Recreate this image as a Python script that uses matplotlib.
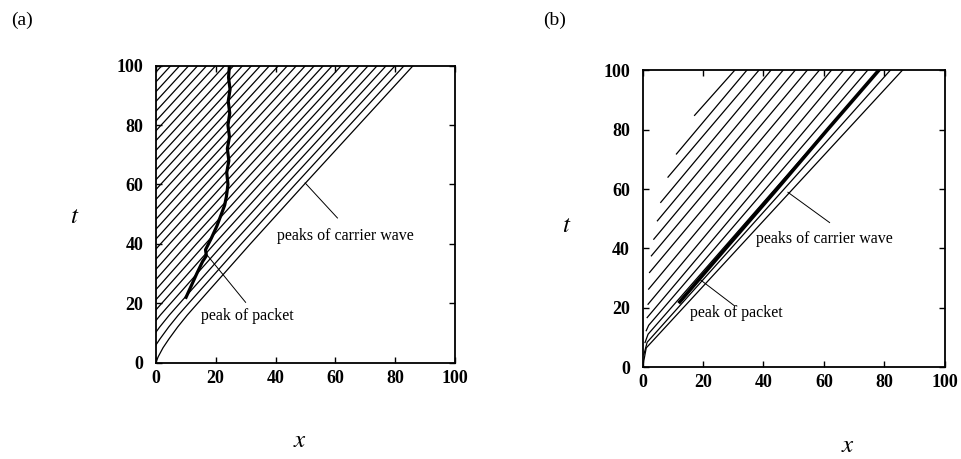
import matplotlib.pyplot as plt
import numpy as np

# outermost carrier-wave peak in (a), (t, x)
BASE_T_A = [0, 2, 5, 8, 12, 16, 20, 30, 40, 60, 80, 100]
BASE_X_A = [0, 0.8, 2.4, 4.4, 7.3, 10.5, 14.0, 22.8, 31.6, 49.6, 67.8, 86.0]

# where each carrier-wave peak meets t = 100 in (a)
CARRIER_TOP_A = [86, 83, 80, 77, 74, 71, 68, 65, 62, 59, 56, 53, 50, 47, 44,
                 41, 38, 35, 32, 29, 26, 23, 20, 17, 14, 11, 8, 5, 2]

# (b): first visible point (x, t) and crossing of t = 100 for each peak
CARRIER_START_X_B = [17.2, 11.2, 8.4, 6.0, 4.9, 3.7, 2.9, 2.3, 2.0, 1.8, 1.5,
                     1.2, 0.8, 0.4, 0.0]
CARRIER_START_T_B = [84.8, 71.8, 64.0, 55.5, 49.3, 43.1, 37.5, 31.9, 26.3, 21.2,
                     16.7, 12.3, 8.3, 4.2, 0.0]
CARRIER_TOP_B = [30.5, 34.5, 38.5, 42.5, 46.5, 50.5, 54.5, 58.5, 62.5, 66.5,
                 70.5, 74.5, 78.2, 82.0, 86.0]
# the lowest peaks start steeply: (dx, dt) of that first short stretch
BEND_DX_B = [0, 0, 0, 0, 0, 0, 0, 0, 0, 0, 0, 0.8, 1.0, 1.1, 1.2]
BEND_DT_B = [0, 0, 0, 0, 0, 0, 0, 0, 0, 0, 0, 1.8, 2.8, 4.2, 6.5]

# peak of the packet
PACKET_T_A = [22, 26, 30, 34, 36, 38, 42, 46, 50, 53, 56, 60, 64, 68, 72, 76, 80,
              84, 88, 92, 96, 100]
PACKET_X_A = [10.1, 11.9, 13.7, 15.6, 16.9, 16.6, 18.6, 20.4, 21.9, 23.0, 23.6,
              24.1, 23.7, 24.4, 23.9, 24.6, 24.1, 24.7, 24.2, 24.8, 24.3, 24.6]

PACKET_T_B = [22, 40, 60, 80, 100]
PACKET_X_B = [12.3, 27.5, 44.5, 61.2, 78.2]

TICKS = [0, 20, 40, 60, 80, 100]

SERIF = ["Liberation Serif", "DejaVu Serif"]


def style_axes(ax):
    ax.set_xlim(0, 100)
    ax.set_ylim(0, 100)
    ax.set_xticks(TICKS)
    ax.set_yticks(TICKS)
    ax.tick_params(direction="in", top=True, right=True, length=4, width=1.0,
                   labelsize=13)
    ax.tick_params(axis="x", pad=5)
    ax.tick_params(axis="y", pad=9)
    for lab in ax.get_xticklabels() + ax.get_yticklabels():
        lab.set_family(SERIF)
        lab.set_fontweight("bold")
    for sp in ax.spines.values():
        sp.set_linewidth(1.3)


def annotate(ax, text, xy_text, p0, p1):
    ax.plot([p0[0], p1[0]], [p0[1], p1[1]], color="black", lw=0.7, clip_on=False)
    ax.text(xy_text[0], xy_text[1], text, fontsize=11.5, family=SERIF,
            ha="left", va="center", clip_on=False)


def main():
    plt.rcParams["mathtext.fontset"] = "stix"
    fig = plt.figure(figsize=(9.62, 4.59), dpi=100)

    # (a)
    ax = fig.add_axes([0.162, 0.210, 0.311, 0.647])
    base_t = np.array(BASE_T_A)
    base_x = np.array(BASE_X_A)
    for top in CARRIER_TOP_A:
        ax.plot(base_x - (86.0 - top), base_t, color="black", lw=0.9)
    ax.plot(PACKET_X_A, PACKET_T_A, color="black", lw=2.3, solid_joinstyle="round")
    style_axes(ax)
    annotate(ax, "peaks of carrier wave", (40.4, 42.8), (49.9, 60.5), (60.7, 48.7))
    annotate(ax, "peak of packet", (15.1, 15.8), (17.3, 36.0), (30.0, 20.3))

    # (b)
    ax = fig.add_axes([0.668, 0.200, 0.314, 0.647])
    for xs, ts, top, bx, bt in zip(CARRIER_START_X_B, CARRIER_START_T_B,
                                   CARRIER_TOP_B, BEND_DX_B, BEND_DT_B):
        ax.plot([xs, xs + bx, top], [ts, ts + bt, 100], color="black", lw=0.9)
    ax.plot(PACKET_X_B, PACKET_T_B, color="black", lw=2.6)
    style_axes(ax)
    annotate(ax, "peaks of carrier wave", (37.6, 43.2), (48.1, 58.9), (61.9, 48.7))
    annotate(ax, "peak of packet", (15.6, 18.3), (18.9, 29.6), (30.5, 20.6))

    # panel and axis labels
    fig.text(22 / 962, 1 - 20 / 459, "(a)", fontsize=14, family=SERIF,
             ha="center", va="center")
    fig.text(555 / 962, 1 - 20 / 459, "(b)", fontsize=14, family=SERIF,
             ha="center", va="center")
    fig.text(75 / 962, 1 - 216 / 459, "$t$", fontsize=18, ha="center", va="center")
    fig.text(567 / 962, 1 - 225 / 459, "$t$", fontsize=18, ha="center", va="center")
    fig.text(300 / 962, 1 - 440 / 459, "$x$", fontsize=18, ha="center", va="center")
    fig.text(848 / 962, 1 - 445 / 459, "$x$", fontsize=18, ha="center", va="center")

    fig.savefig("out.png", dpi=100)
    plt.close(fig)


if __name__ == "__main__":
    main()
